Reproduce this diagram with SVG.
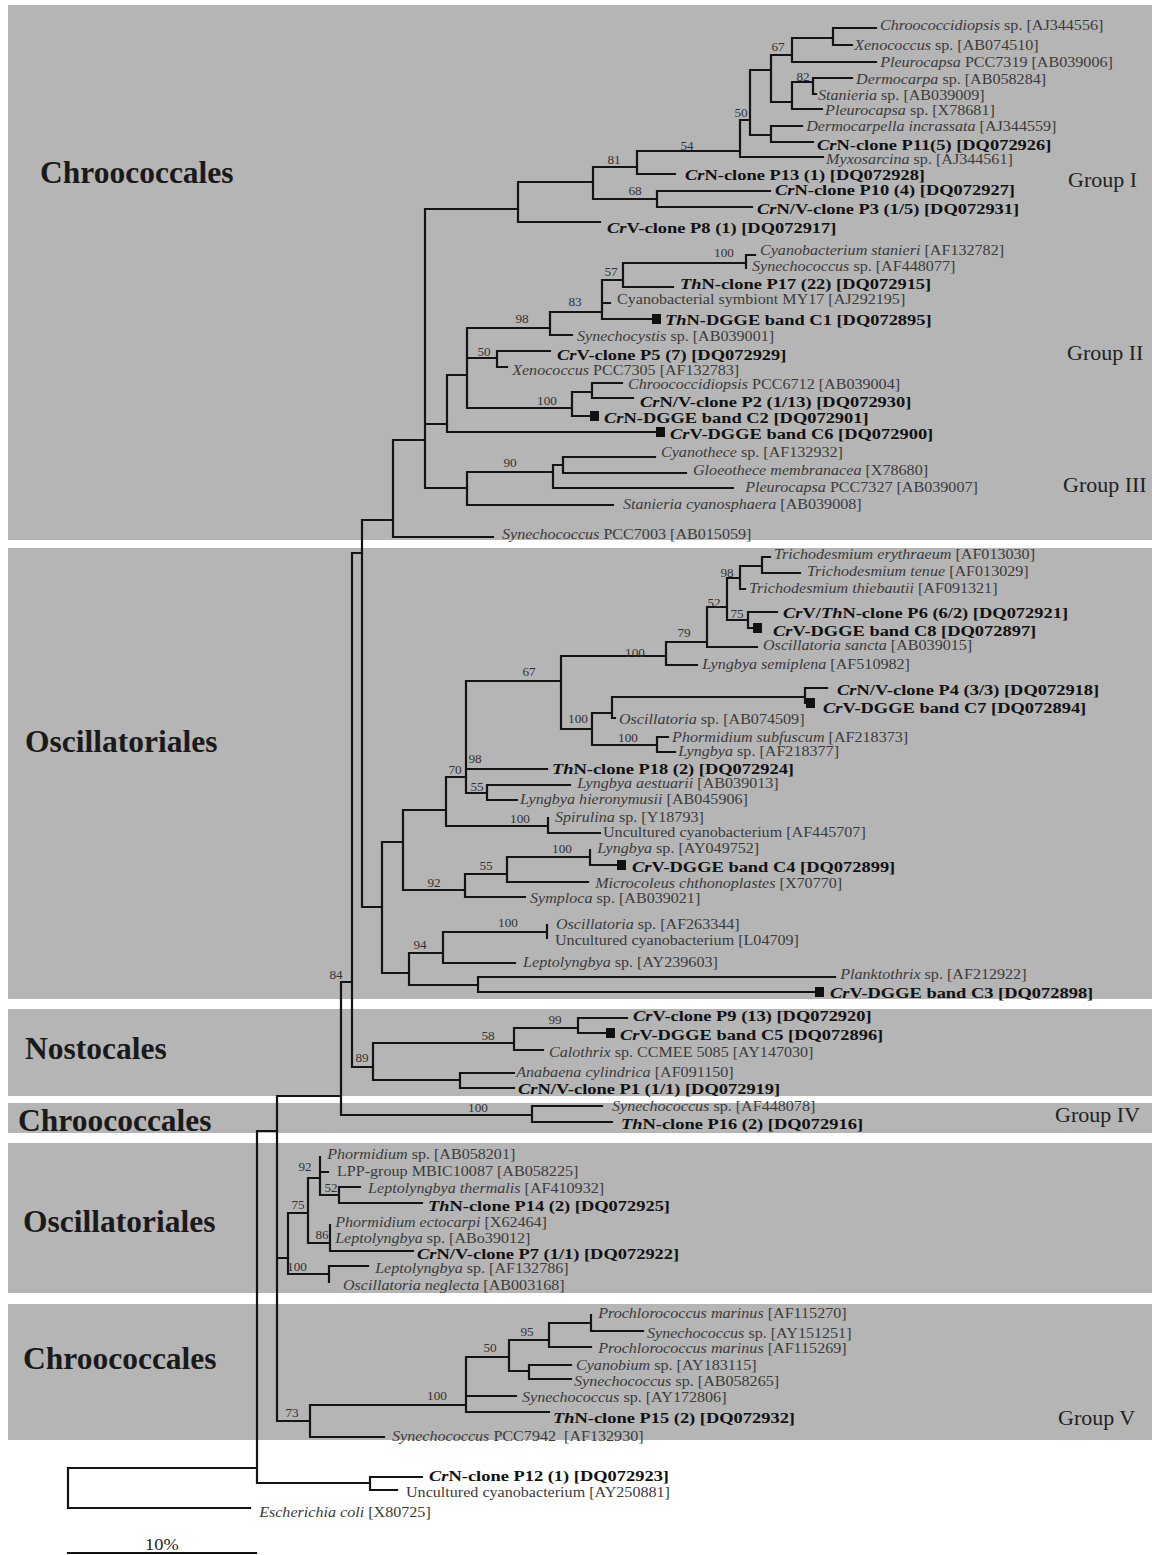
<svg xmlns="http://www.w3.org/2000/svg" width="1152" height="1555" viewBox="0 0 1152 1555">
<style>
text{font-family:"Liberation Serif","Times New Roman",serif}
.band{fill:#b5b5b5}
.br{fill:none;stroke:#141414;stroke-width:2.2;stroke-linecap:square}
.t{font-size:14px;fill:#3a3a3a}
.b{font-size:15.5px;font-weight:bold;fill:#111}
.t,.sc{transform-box:fill-box;transform-origin:0 50%;transform:scaleX(1.15)}
.b{transform-box:fill-box;transform-origin:0 50%;transform:scaleX(1.19)}
.bs{font-size:11.5px;fill:#333;text-anchor:middle;transform-box:fill-box;transform-origin:50% 50%;transform:scaleX(1.15)}
.i{font-style:italic}
.ord{font-size:31.5px;font-weight:bold;fill:#1a1a1a}
.grp{font-size:22px;fill:#222}
.sq{fill:#111}
.sc{font-size:16px;fill:#222}
</style>
<rect width="1152" height="1555" fill="#fff"/>
<g id="bands">
<rect class="band" x="8" y="5" width="1144" height="535"/>
<rect class="band" x="8" y="548" width="1144" height="451"/>
<rect class="band" x="8" y="1009" width="1144" height="87"/>
<rect class="band" x="8" y="1103" width="1144" height="30"/>
<rect class="band" x="8" y="1143" width="1144" height="150"/>
<rect class="band" x="8" y="1304" width="1144" height="136"/>
</g>
<g id="order-labels">
<text class="ord" x="40" y="183">Chroococcales</text>
<text class="ord" x="25" y="752">Oscillatoriales</text>
<text class="ord" x="25" y="1059">Nostocales</text>
<text class="ord" x="18" y="1131">Chroococcales</text>
<text class="ord" x="23" y="1232">Oscillatoriales</text>
<text class="ord" x="23" y="1369">Chroococcales</text>
</g>
<g id="group-labels">
<text class="grp" x="1068" y="187">Group I</text>
<text class="grp" x="1067" y="360">Group II</text>
<text class="grp" x="1063" y="492">Group III</text>
<text class="grp" x="1055" y="1122">Group IV</text>
<text class="grp" x="1058" y="1425">Group V</text>
</g>
<g id="connectors" class="br">
<path d="M68 1468V1508M68 1468H257M68 1508H250M257 1131V1483M257 1131H277M257 1483H370M370 1477V1490M370 1477H422M370 1490H397"/>
<path d="M277 1096V1421M277 1096H341M277 1258H288M277 1421H310M310 1405V1437M310 1405H466M310 1437H384M466 1357V1412M466 1357H509M466 1396H516M466 1412H549M509 1340V1371M509 1340H549M509 1371H529M549 1323V1347M549 1323H591M549 1347H591M591 1315V1331M591 1331H643M529 1365V1379M529 1365H571M529 1379H571"/>
<path d="M288 1213V1274M288 1213H308M288 1274H329M308 1178V1243M308 1178H320M308 1243H330M320 1157V1195M320 1172H328M320 1195H339M339 1187V1203M339 1187H360M339 1203H422M330 1225V1251M330 1251H413M329 1266V1282M329 1266H368"/>
<path d="M341 982V1115M341 982H352M341 1115H532M532 1106V1122M532 1106H602M532 1122H612M352 553V1067M352 553H362M352 1067H373M373 1043V1080M373 1043H514M373 1080H460M460 1073V1088M460 1073H514M460 1088H514M514 1028V1050M514 1028H578M514 1050H543M578 1018V1033M578 1018H627M578 1033H606"/>
<path d="M362 520V907M362 520H393M362 907H382M393 440V537M393 440H425M393 537H493M425 209V488M425 209H518M425 424H447M425 488H467"/>
<path d="M518 182V222M518 182H593M518 222H600M593 167V199M593 167H637M593 199H657M637 151V174M637 151H740M637 174H675M657 191V207M657 191H770M657 207H752M740 120V157M740 120H750M740 157H823M750 70V135M750 70H771M750 135H771M771 55V102M771 55H792M771 102H792M792 38V62M792 38H833M792 62H876M833 28V45M833 28H876M833 45H852M792 82V109M792 82H813M792 109H822M813 78V94M813 78H852M813 94H816M771 126V142M771 126H802M771 142H813"/>
<path d="M447 375V432M447 375H467M447 432H656M467 328V408M467 328H550M467 358H497M467 408H572M550 312V335M550 312H602M550 335H572M602 280V319M602 280H623M602 303H610M602 319H652M623 263V287M623 263H746M623 287H673M746 255V268M746 255H755M497 351V367M497 351H550M497 367H507M572 392V416M572 392H592M572 416H590M592 383V398M592 383H622M592 398H633"/>
<path d="M467 472V505M467 472H553M467 505H613M553 465V488M553 465H563M553 488H733M563 457V473M563 457H655M563 473H686"/>
<path d="M382 842V973M382 842H403M382 973H409M403 810V890M403 810H446M403 890H465M446 777V826M446 777H466M446 826H548M466 681V793M466 681H561M466 769H547M466 793H487M487 785V800M487 785H570M487 800H517M548 818V833M548 833H600"/>
<path d="M561 656V729M561 656H666M561 729H592M666 642V665M666 642H707M666 665H697M707 607V647M707 607H727M707 647H757M727 578V620M727 578H740M727 620H748M740 566V589M740 566H762M740 589H745M762 557V573M762 557H770M762 573H800M748 612V628M748 612H777M748 628H753M592 713V745M592 713H612M592 745H657M612 697V718M612 697H805M612 718H615M805 688V703M805 688H827M657 737V752M657 737H668M657 752H675"/>
<path d="M465 874V897M465 874H507M465 897H525M507 857V882M507 857H590M507 882H588M590 850V865M590 865H617M409 953V985M409 953H443M409 985H478M443 932V963M443 932H547M443 963H515M547 925V938M478 977V992M478 977H835M478 992H815"/>
<path d="M68 1553H256"/>
</g>
<g id="bootstrap">
<text class="bs" x="778" y="51">67</text>
<text class="bs" x="803" y="81">82</text>
<text class="bs" x="741" y="117">50</text>
<text class="bs" x="687" y="150">54</text>
<text class="bs" x="614" y="164">81</text>
<text class="bs" x="635" y="195">68</text>
<text class="bs" x="724" y="257">100</text>
<text class="bs" x="611" y="276">57</text>
<text class="bs" x="575" y="306">83</text>
<text class="bs" x="522" y="323">98</text>
<text class="bs" x="484" y="356">50</text>
<text class="bs" x="547" y="405">100</text>
<text class="bs" x="510" y="467">90</text>
<text class="bs" x="727" y="577">98</text>
<text class="bs" x="714" y="607">52</text>
<text class="bs" x="737" y="618">75</text>
<text class="bs" x="684" y="637">79</text>
<text class="bs" x="635" y="657">100</text>
<text class="bs" x="529" y="676">67</text>
<text class="bs" x="578" y="723">100</text>
<text class="bs" x="628" y="742">100</text>
<text class="bs" x="475" y="763">98</text>
<text class="bs" x="455" y="774">70</text>
<text class="bs" x="477" y="791">55</text>
<text class="bs" x="520" y="823">100</text>
<text class="bs" x="562" y="853">100</text>
<text class="bs" x="486" y="870">55</text>
<text class="bs" x="434" y="887">92</text>
<text class="bs" x="508" y="927">100</text>
<text class="bs" x="420" y="949">94</text>
<text class="bs" x="336" y="979">84</text>
<text class="bs" x="555" y="1024">99</text>
<text class="bs" x="488" y="1040">58</text>
<text class="bs" x="362" y="1062">89</text>
<text class="bs" x="478" y="1112">100</text>
<text class="bs" x="305" y="1171">92</text>
<text class="bs" x="331" y="1192">52</text>
<text class="bs" x="298" y="1209">75</text>
<text class="bs" x="322" y="1239">86</text>
<text class="bs" x="297" y="1271">100</text>
<text class="bs" x="527" y="1336">95</text>
<text class="bs" x="490" y="1352">50</text>
<text class="bs" x="437" y="1400">100</text>
<text class="bs" x="292" y="1417">73</text>
</g>
<g id="n1"><text class="t" x="880" y="30"><tspan class="i">Chroococcidiopsis</tspan> sp. [AJ344556]</text></g>
<g id="n2"><text class="t" x="854" y="50"><tspan class="i">Xenococcus</tspan> sp. [AB074510]</text></g>
<g id="n3"><text class="t" x="880" y="67"><tspan class="i">Pleurocapsa</tspan> PCC7319 [AB039006]</text></g>
<g id="n4"><text class="t" x="856" y="84"><tspan class="i">Dermocarpa</tspan> sp. [AB058284]</text></g>
<g id="n5"><text class="t" x="818" y="100"><tspan class="i">Stanieria</tspan> sp. [AB039009]</text></g>
<g id="n6"><text class="t" x="825" y="115"><tspan class="i">Pleurocapsa</tspan> sp. [X78681]</text></g>
<g id="n7"><text class="t" x="806" y="131"><tspan class="i">Dermocarpella incrassata</tspan> [AJ344559]</text></g>
<g id="n8"><text class="b" x="817" y="150"><tspan class="i">Cr</tspan>N-clone P11(5) [DQ072926]</text></g>
<g id="n9"><text class="t" x="826" y="164"><tspan class="i">Myxosarcina</tspan> sp. [AJ344561]</text></g>
<g id="n10"><text class="b" x="685" y="180"><tspan class="i">Cr</tspan>N-clone P13 (1) [DQ072928]</text></g>
<g id="n11"><text class="b" x="775" y="195"><tspan class="i">Cr</tspan>N-clone P10 (4) [DQ072927]</text></g>
<g id="n12"><text class="b" x="757" y="214"><tspan class="i">Cr</tspan>N/V-clone P3 (1/5) [DQ072931]</text></g>
<g id="n13"><text class="b" x="607" y="233"><tspan class="i">Cr</tspan>V-clone P8 (1) [DQ072917]</text></g>
<g id="n14"><text class="t" x="760" y="255"><tspan class="i">Cyanobacterium stanieri</tspan> [AF132782]</text></g>
<g id="n15"><text class="t" x="752" y="271"><tspan class="i">Synechococcus</tspan> sp. [AF448077]</text></g>
<g id="n16"><text class="b" x="680" y="289"><tspan class="i">Th</tspan>N-clone P17 (22) [DQ072915]</text></g>
<g id="n17"><text class="t" x="617" y="304">Cyanobacterial symbiont MY17 [AJ292195]</text></g>
<g id="n18"><rect class="sq" x="652" y="314" width="9" height="10"/><text class="b" x="665" y="325"><tspan class="i">Th</tspan>N-DGGE band C1 [DQ072895]</text></g>
<g id="n19"><text class="t" x="577" y="341"><tspan class="i">Synechocystis</tspan> sp. [AB039001]</text></g>
<g id="n20"><text class="b" x="557" y="360"><tspan class="i">Cr</tspan>V-clone P5 (7) [DQ072929]</text></g>
<g id="n21"><text class="t" x="512" y="375"><tspan class="i">Xenococcus</tspan> PCC7305 [AF132783]</text></g>
<g id="n22"><text class="t" x="628" y="389"><tspan class="i">Chroococcidiopsis</tspan> PCC6712 [AB039004]</text></g>
<g id="n23"><text class="b" x="640" y="407"><tspan class="i">Cr</tspan>N/V-clone P2 (1/13) [DQ072930]</text></g>
<g id="n24"><rect class="sq" x="590" y="411" width="9" height="10"/><text class="b" x="604" y="423"><tspan class="i">Cr</tspan>N-DGGE band C2 [DQ072901]</text></g>
<g id="n25"><rect class="sq" x="656" y="427" width="9" height="10"/><text class="b" x="670" y="439"><tspan class="i">Cr</tspan>V-DGGE band C6 [DQ072900]</text></g>
<g id="n26"><text class="t" x="661" y="457"><tspan class="i">Cyanothece</tspan> sp. [AF132932]</text></g>
<g id="n27"><text class="t" x="693" y="475"><tspan class="i">Gloeothece membranacea</tspan> [X78680]</text></g>
<g id="n28"><text class="t" x="745" y="492"><tspan class="i">Pleurocapsa</tspan> PCC7327 [AB039007]</text></g>
<g id="n29"><text class="t" x="623" y="509"><tspan class="i">Stanieria cyanosphaera</tspan> [AB039008]</text></g>
<g id="n30"><text class="t" x="502" y="539"><tspan class="i">Synechococcus</tspan> PCC7003 [AB015059]</text></g>
<g id="n31"><text class="t" x="774" y="559"><tspan class="i">Trichodesmium erythraeum</tspan> [AF013030]</text></g>
<g id="n32"><text class="t" x="807" y="576"><tspan class="i">Trichodesmium tenue</tspan> [AF013029]</text></g>
<g id="n33"><text class="t" x="749" y="593"><tspan class="i">Trichodesmium thiebautii</tspan> [AF091321]</text></g>
<g id="n34"><text class="b" x="783" y="618"><tspan class="i">Cr</tspan>V/<tspan class="i">Th</tspan>N-clone P6 (6/2) [DQ072921]</text></g>
<g id="n35"><rect class="sq" x="753" y="623" width="9" height="10"/><text class="b" x="773" y="636"><tspan class="i">Cr</tspan>V-DGGE band C8 [DQ072897]</text></g>
<g id="n36"><text class="t" x="763" y="650"><tspan class="i">Oscillatoria sancta</tspan> [AB039015]</text></g>
<g id="n37"><text class="t" x="702" y="669"><tspan class="i">Lyngbya semiplena</tspan> [AF510982]</text></g>
<g id="n38"><text class="b" x="837" y="695"><tspan class="i">Cr</tspan>N/V-clone P4 (3/3) [DQ072918]</text></g>
<g id="n39"><rect class="sq" x="806" y="698" width="9" height="10"/><text class="b" x="823" y="713"><tspan class="i">Cr</tspan>V-DGGE band C7 [DQ072894]</text></g>
<g id="n40"><text class="t" x="619" y="724"><tspan class="i">Oscillatoria</tspan> sp. [AB074509]</text></g>
<g id="n41"><text class="t" x="672" y="742"><tspan class="i">Phormidium subfuscum</tspan> [AF218373]</text></g>
<g id="n42"><text class="t" x="678" y="756"><tspan class="i">Lyngbya</tspan> sp. [AF218377]</text></g>
<g id="n43"><text class="b" x="552" y="774"><tspan class="i">Th</tspan>N-clone P18 (2) [DQ072924]</text></g>
<g id="n44"><text class="t" x="577" y="788"><tspan class="i">Lyngbya aestuarii</tspan> [AB039013]</text></g>
<g id="n45"><text class="t" x="520" y="804"><tspan class="i">Lyngbya hieronymusii</tspan> [AB045906]</text></g>
<g id="n46"><text class="t" x="555" y="822"><tspan class="i">Spirulina</tspan> sp. [Y18793]</text></g>
<g id="n47"><text class="t" x="603" y="837">Uncultured cyanobacterium [AF445707]</text></g>
<g id="n48"><text class="t" x="597" y="853"><tspan class="i">Lyngbya</tspan> sp. [AY049752]</text></g>
<g id="n49"><rect class="sq" x="617" y="860" width="9" height="10"/><text class="b" x="632" y="872"><tspan class="i">Cr</tspan>V-DGGE band C4 [DQ072899]</text></g>
<g id="n50"><text class="t" x="595" y="888"><tspan class="i">Microcoleus chthonoplastes</tspan> [X70770]</text></g>
<g id="n51"><text class="t" x="530" y="903"><tspan class="i">Symploca</tspan> sp. [AB039021]</text></g>
<g id="n52"><text class="t" x="556" y="929"><tspan class="i">Oscillatoria</tspan> sp. [AF263344]</text></g>
<g id="n53"><text class="t" x="555" y="945">Uncultured cyanobacterium [L04709]</text></g>
<g id="n54"><text class="t" x="523" y="967"><tspan class="i">Leptolyngbya</tspan> sp. [AY239603]</text></g>
<g id="n55"><text class="t" x="840" y="979"><tspan class="i">Planktothrix</tspan> sp. [AF212922]</text></g>
<g id="n56"><rect class="sq" x="815" y="987" width="9" height="10"/><text class="b" x="830" y="998"><tspan class="i">Cr</tspan>V-DGGE band C3 [DQ072898]</text></g>
<g id="n57"><text class="b" x="633" y="1021"><tspan class="i">Cr</tspan>V-clone P9 (13) [DQ072920]</text></g>
<g id="n58"><rect class="sq" x="606" y="1028" width="9" height="10"/><text class="b" x="620" y="1040"><tspan class="i">Cr</tspan>V-DGGE band C5 [DQ072896]</text></g>
<g id="n59"><text class="t" x="549" y="1057"><tspan class="i">Calothrix</tspan> sp. CCMEE 5085 [AY147030]</text></g>
<g id="n60"><text class="t" x="516" y="1077"><tspan class="i">Anabaena cylindrica</tspan> [AF091150]</text></g>
<g id="n61"><text class="b" x="518" y="1094"><tspan class="i">Cr</tspan>N/V-clone P1 (1/1) [DQ072919]</text></g>
<g id="n62"><text class="t" x="612" y="1111"><tspan class="i">Synechococcus</tspan> sp. [AF448078]</text></g>
<g id="n63"><text class="b" x="621" y="1129"><tspan class="i">Th</tspan>N-clone P16 (2) [DQ072916]</text></g>
<g id="n64"><text class="t" x="327" y="1159"><tspan class="i">Phormidium</tspan> sp. [AB058201]</text></g>
<g id="n65"><text class="t" x="337" y="1176">LPP-group MBIC10087 [AB058225]</text></g>
<g id="n66"><text class="t" x="368" y="1193"><tspan class="i">Leptolyngbya thermalis</tspan> [AF410932]</text></g>
<g id="n67"><text class="b" x="428" y="1211"><tspan class="i">Th</tspan>N-clone P14 (2) [DQ072925]</text></g>
<g id="n68"><text class="t" x="335" y="1227"><tspan class="i">Phormidium ectocarpi</tspan> [X62464]</text></g>
<g id="n69"><text class="t" x="335" y="1243"><tspan class="i">Leptolyngbya</tspan> sp. [ABo39012]</text></g>
<g id="n70"><text class="b" x="417" y="1259"><tspan class="i">Cr</tspan>N/V-clone P7 (1/1) [DQ072922]</text></g>
<g id="n71"><text class="t" x="375" y="1273"><tspan class="i">Leptolyngbya</tspan> sp. [AF132786]</text></g>
<g id="n72"><text class="t" x="343" y="1290"><tspan class="i">Oscillatoria neglecta</tspan> [AB003168]</text></g>
<g id="n73"><text class="t" x="598" y="1318"><tspan class="i">Prochlorococcus marinus</tspan> [AF115270]</text></g>
<g id="n74"><text class="t" x="647" y="1338"><tspan class="i">Synechococcus</tspan> sp. [AY151251]</text></g>
<g id="n75"><text class="t" x="598" y="1353"><tspan class="i">Prochlorococcus marinus</tspan> [AF115269]</text></g>
<g id="n76"><text class="t" x="576" y="1370"><tspan class="i">Cyanobium</tspan> sp. [AY183115]</text></g>
<g id="n77"><text class="t" x="574" y="1386"><tspan class="i">Synechococcus</tspan> sp. [AB058265]</text></g>
<g id="n78"><text class="t" x="522" y="1402"><tspan class="i">Synechococcus</tspan> sp. [AY172806]</text></g>
<g id="n79"><text class="b" x="553" y="1423"><tspan class="i">Th</tspan>N-clone P15 (2) [DQ072932]</text></g>
<g id="n80"><text class="t" x="392" y="1441" xml:space="preserve"><tspan class="i">Synechococcus</tspan> PCC7942  [AF132930]</text></g>
<g id="n81"><text class="b" x="429" y="1481"><tspan class="i">Cr</tspan>N-clone P12 (1) [DQ072923]</text></g>
<g id="n82"><text class="t" x="406" y="1497">Uncultured cyanobacterium [AY250881]</text></g>
<g id="n83"><text class="t" x="259" y="1517"><tspan class="i">Escherichia coli</tspan> [X80725]</text></g>
<g id="scale"><text class="sc" x="145" y="1550">10%</text></g>
</svg>
